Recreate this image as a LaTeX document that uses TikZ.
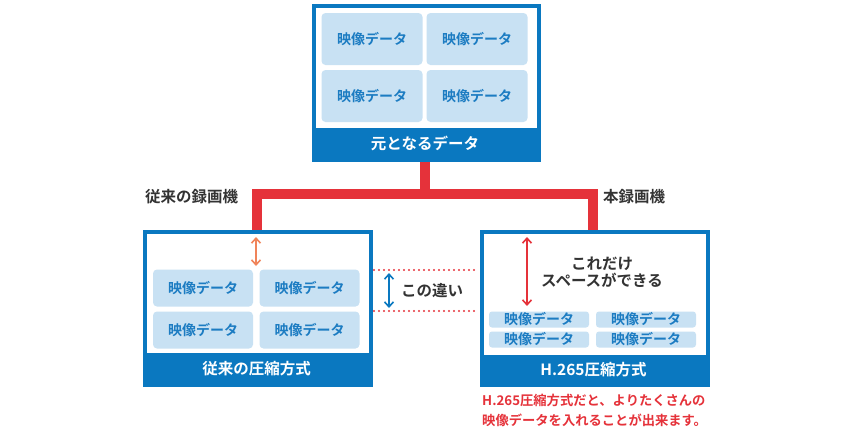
\documentclass[tikz,border=0pt]{standalone}
\usepackage{fontspec}
\setmainfont{Noto Sans CJK JP}[BoldFont={* Bold}]
\usetikzlibrary{arrows.meta}
\definecolor{mblue}{HTML}{0A78C0}
\definecolor{cellbg}{HTML}{C8E1F3}
\definecolor{celltx}{HTML}{1C7CC2}
\definecolor{conred}{HTML}{E5323A}
\definecolor{orng}{HTML}{F0845A}
\definecolor{dark}{HTML}{333333}
\tikzset{
  frame/.style={draw=mblue, line width=2.5pt, fill=white},
  cell/.style={fill=cellbg, draw=none, rounded corners=4pt},
  celltext/.style={text=celltx, font=\bfseries\fontsize{14}{16}\selectfont},
  bartext/.style={text=white, font=\bfseries\fontsize{15.5}{17}\selectfont},
  label/.style={text=dark, font=\bfseries\fontsize{15.5}{18}\selectfont},
  conn/.style={draw=conred, line width=9.5pt, line join=miter},
  dbl/.style={line width=1.6pt, {Straight Barb[length=5pt,width=9pt]}-{Straight Barb[length=5pt,width=9pt]}},
  dots/.style={draw=conred, line width=2.4pt, dash pattern=on 0pt off 5pt, line cap=round}
}
\begin{document}
\begin{tikzpicture}[x=1pt,y=-1pt]
\useasboundingbox (0,0) rectangle (850,440);
% boxes
\node[frame, minimum width=224, minimum height=153, anchor=north west, inner sep=0] (top) at (313,5) {};
\node[frame, minimum width=225, minimum height=152, anchor=north west, inner sep=0] (lbox) at (144,231) {};
\node[frame, minimum width=225, minimum height=152, anchor=north west, inner sep=0] (rbox) at (481,231) {};
% connectors
\coordinate (cj) at (425,194);
\coordinate (cl) at (257,194);
\coordinate (cr) at (593,194);
\draw[conn] (top.south -| cj) -- (cj);
\draw[conn] (lbox.north -| cl) -- (cl) -- (cr) -- (rbox.north -| cr);
% redraw frames over connector ends
\draw[mblue, line width=2.5pt] (lbox.north west) rectangle (lbox.south east);
\draw[mblue, line width=2.5pt] (rbox.north west) rectangle (rbox.south east);
\draw[mblue, line width=2.5pt] (top.north west) rectangle (top.south east);
% top box contents
\fill[mblue] (313,128) rectangle (537,158);
\node[bartext] (toptxt) at (425,143) {元となるデータ};
\foreach \i/\x/\y in {1/372/39, 2/477/39, 3/372/96, 4/477/96}{
  \node[cell, minimum width=101, minimum height=52] (tc\i) at (\x,\y) {};
  \node[celltext] at (tc\i) {映像データ};
}
% left box contents
\fill[mblue] (144,353) rectangle (369,383);
\node[bartext] (ltxt) at (256.5,368.5) {従来の圧縮方式};
\foreach \i/\x/\y in {1/203/288, 2/309.5/288, 3/203/330, 4/309.5/330}{
  \node[cell, minimum width=100, minimum height=37] (lc\i) at (\x,\y) {};
  \node[celltext] at (lc\i) {映像データ};
}
\coordinate (oa1) at (256,237);
\coordinate (oa2) at (256,266);
\draw[dbl, orng] (oa1) -- (oa2);
% right box contents
\fill[mblue] (481,355) rectangle (706,383);
\node[bartext] (rtxt) at (593.5,369.5) {H.265圧縮方式};
\foreach \i/\x/\y in {1/539/319.5, 2/646/319.5, 3/539/339.5, 4/646/339.5}{
  \node[cell, rounded corners=3pt, minimum width=100, minimum height=16] (rc\i) at (\x,\y) {};
  \node[celltext] at (rc\i) {映像データ};
}
\coordinate (ra1) at (527,237);
\coordinate (ra2) at (527,306);
\draw[dbl, conred] (ra1) -- (ra2);
\node[label, align=center, inner sep=0] (space) at (602,272) {これだけ\\[-1pt]スペースができる};
% middle
\coordinate (d1a) at (374,270);
\coordinate (d1b) at (476,270);
\coordinate (d2a) at (374,311);
\coordinate (d2b) at (476,311);
\draw[dots] (d1a) -- (d1b);
\draw[dots] (d2a) -- (d2b);
\coordinate (ba1) at (389,273);
\coordinate (ba2) at (389,308);
\draw[dbl, mblue] (ba1) -- (ba2);
\node[label, anchor=west, inner sep=0] (diff) at (401,291) {この違い};
% labels
\node[label, anchor=west, inner sep=0] (old) at (145,197) {従来の録画機};
\node[label, anchor=west, inner sep=0] (new) at (603,197) {本録画機};
\node[text=conred, font=\bfseries\fontsize{13.3}{20}\selectfont, align=left, anchor=north west, inner sep=0] (note) at (482,394) {H.265圧縮方式だと、よりたくさんの\\映像データを入れることが出来ます。};
\end{tikzpicture}
\end{document}
